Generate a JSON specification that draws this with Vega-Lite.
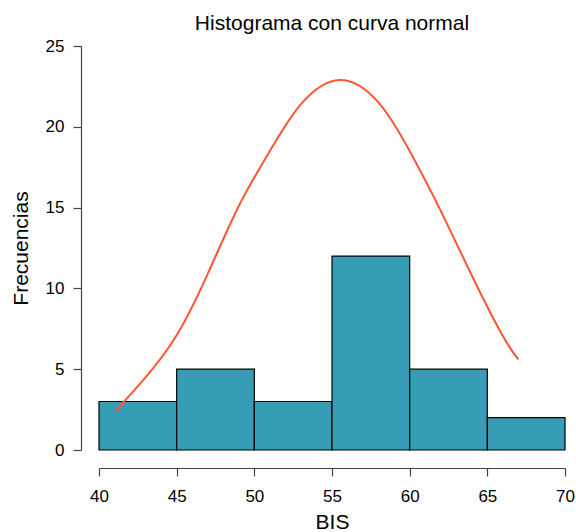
{
  "$schema": "https://vega.github.io/schema/vega-lite/v6.json",
  "autosize": "none",
  "width": 466,
  "height": 404,
  "padding": {"left": 99, "top": 46, "right": 11, "bottom": 82},
  "background": "white",
  "config": {
    "view": {"stroke": null},
    "font": "Liberation Sans",
    "axis": {
      "grid": false,
      "domainColor": "#444444",
      "tickColor": "#444444",
      "domainWidth": 1.2,
      "tickWidth": 1.2,
      "tickSize": 8,
      "offset": 18,
      "labelFlush": false,
      "labelFont": "Liberation Sans",
      "labelFontSize": 17,
      "labelColor": "#000000",
      "titleFont": "Liberation Sans",
      "titleFontSize": 21,
      "titleFontWeight": "normal",
      "titleColor": "#000000"
    }
  },
  "title": {
    "text": "Histograma con curva normal",
    "font": "Liberation Sans",
    "fontSize": 21,
    "fontWeight": "normal",
    "color": "#000000",
    "anchor": "middle",
    "frame": "group",
    "offset": 3
  },
  "datasets": {
    "bins": [
      {"start": 40, "end": 45, "count": 3},
      {"start": 45, "end": 50, "count": 5},
      {"start": 50, "end": 55, "count": 3},
      {"start": 55, "end": 60, "count": 12},
      {"start": 60, "end": 65, "count": 5},
      {"start": 65, "end": 70, "count": 2}
    ],
    "curve": [
      {"x": 41.07, "y": 2.43},
      {"x": 43.0, "y": 4.5},
      {"x": 45.0, "y": 7.1},
      {"x": 47.0, "y": 10.9},
      {"x": 49.0, "y": 15.1},
      {"x": 51.0, "y": 18.5},
      {"x": 53.0, "y": 21.4},
      {"x": 55.5, "y": 22.9},
      {"x": 58.0, "y": 21.5},
      {"x": 60.0, "y": 18.5},
      {"x": 62.0, "y": 14.8},
      {"x": 64.0, "y": 10.8},
      {"x": 66.0, "y": 7.05},
      {"x": 67.0, "y": 5.61}
    ]
  },
  "layer": [
    {
      "data": {"name": "bins"},
      "mark": {"type": "rect", "fill": "#379DB7", "stroke": "#000000", "strokeWidth": 1.2},
      "encoding": {
        "x": {
          "field": "start",
          "type": "quantitative",
          "scale": {"domain": [40, 70], "nice": false, "zero": false},
          "axis": {"values": [40, 45, 50, 55, 60, 65, 70], "title": "BIS", "labelPadding": 12, "titlePadding": 7}
        },
        "x2": {"field": "end"},
        "y": {
          "field": "count",
          "type": "quantitative",
          "scale": {"domain": [0, 25], "nice": false},
          "axis": {"values": [0, 5, 10, 15, 20, 25], "title": "Frecuencias", "labelPadding": 9, "titlePadding": 14}
        },
        "y2": {"datum": 0}
      }
    },
    {
      "data": {"name": "curve"},
      "mark": {"type": "line", "color": "#FF5533", "strokeWidth": 2, "interpolate": "natural"},
      "encoding": {
        "x": {"field": "x", "type": "quantitative"},
        "y": {"field": "y", "type": "quantitative"}
      }
    }
  ]
}
